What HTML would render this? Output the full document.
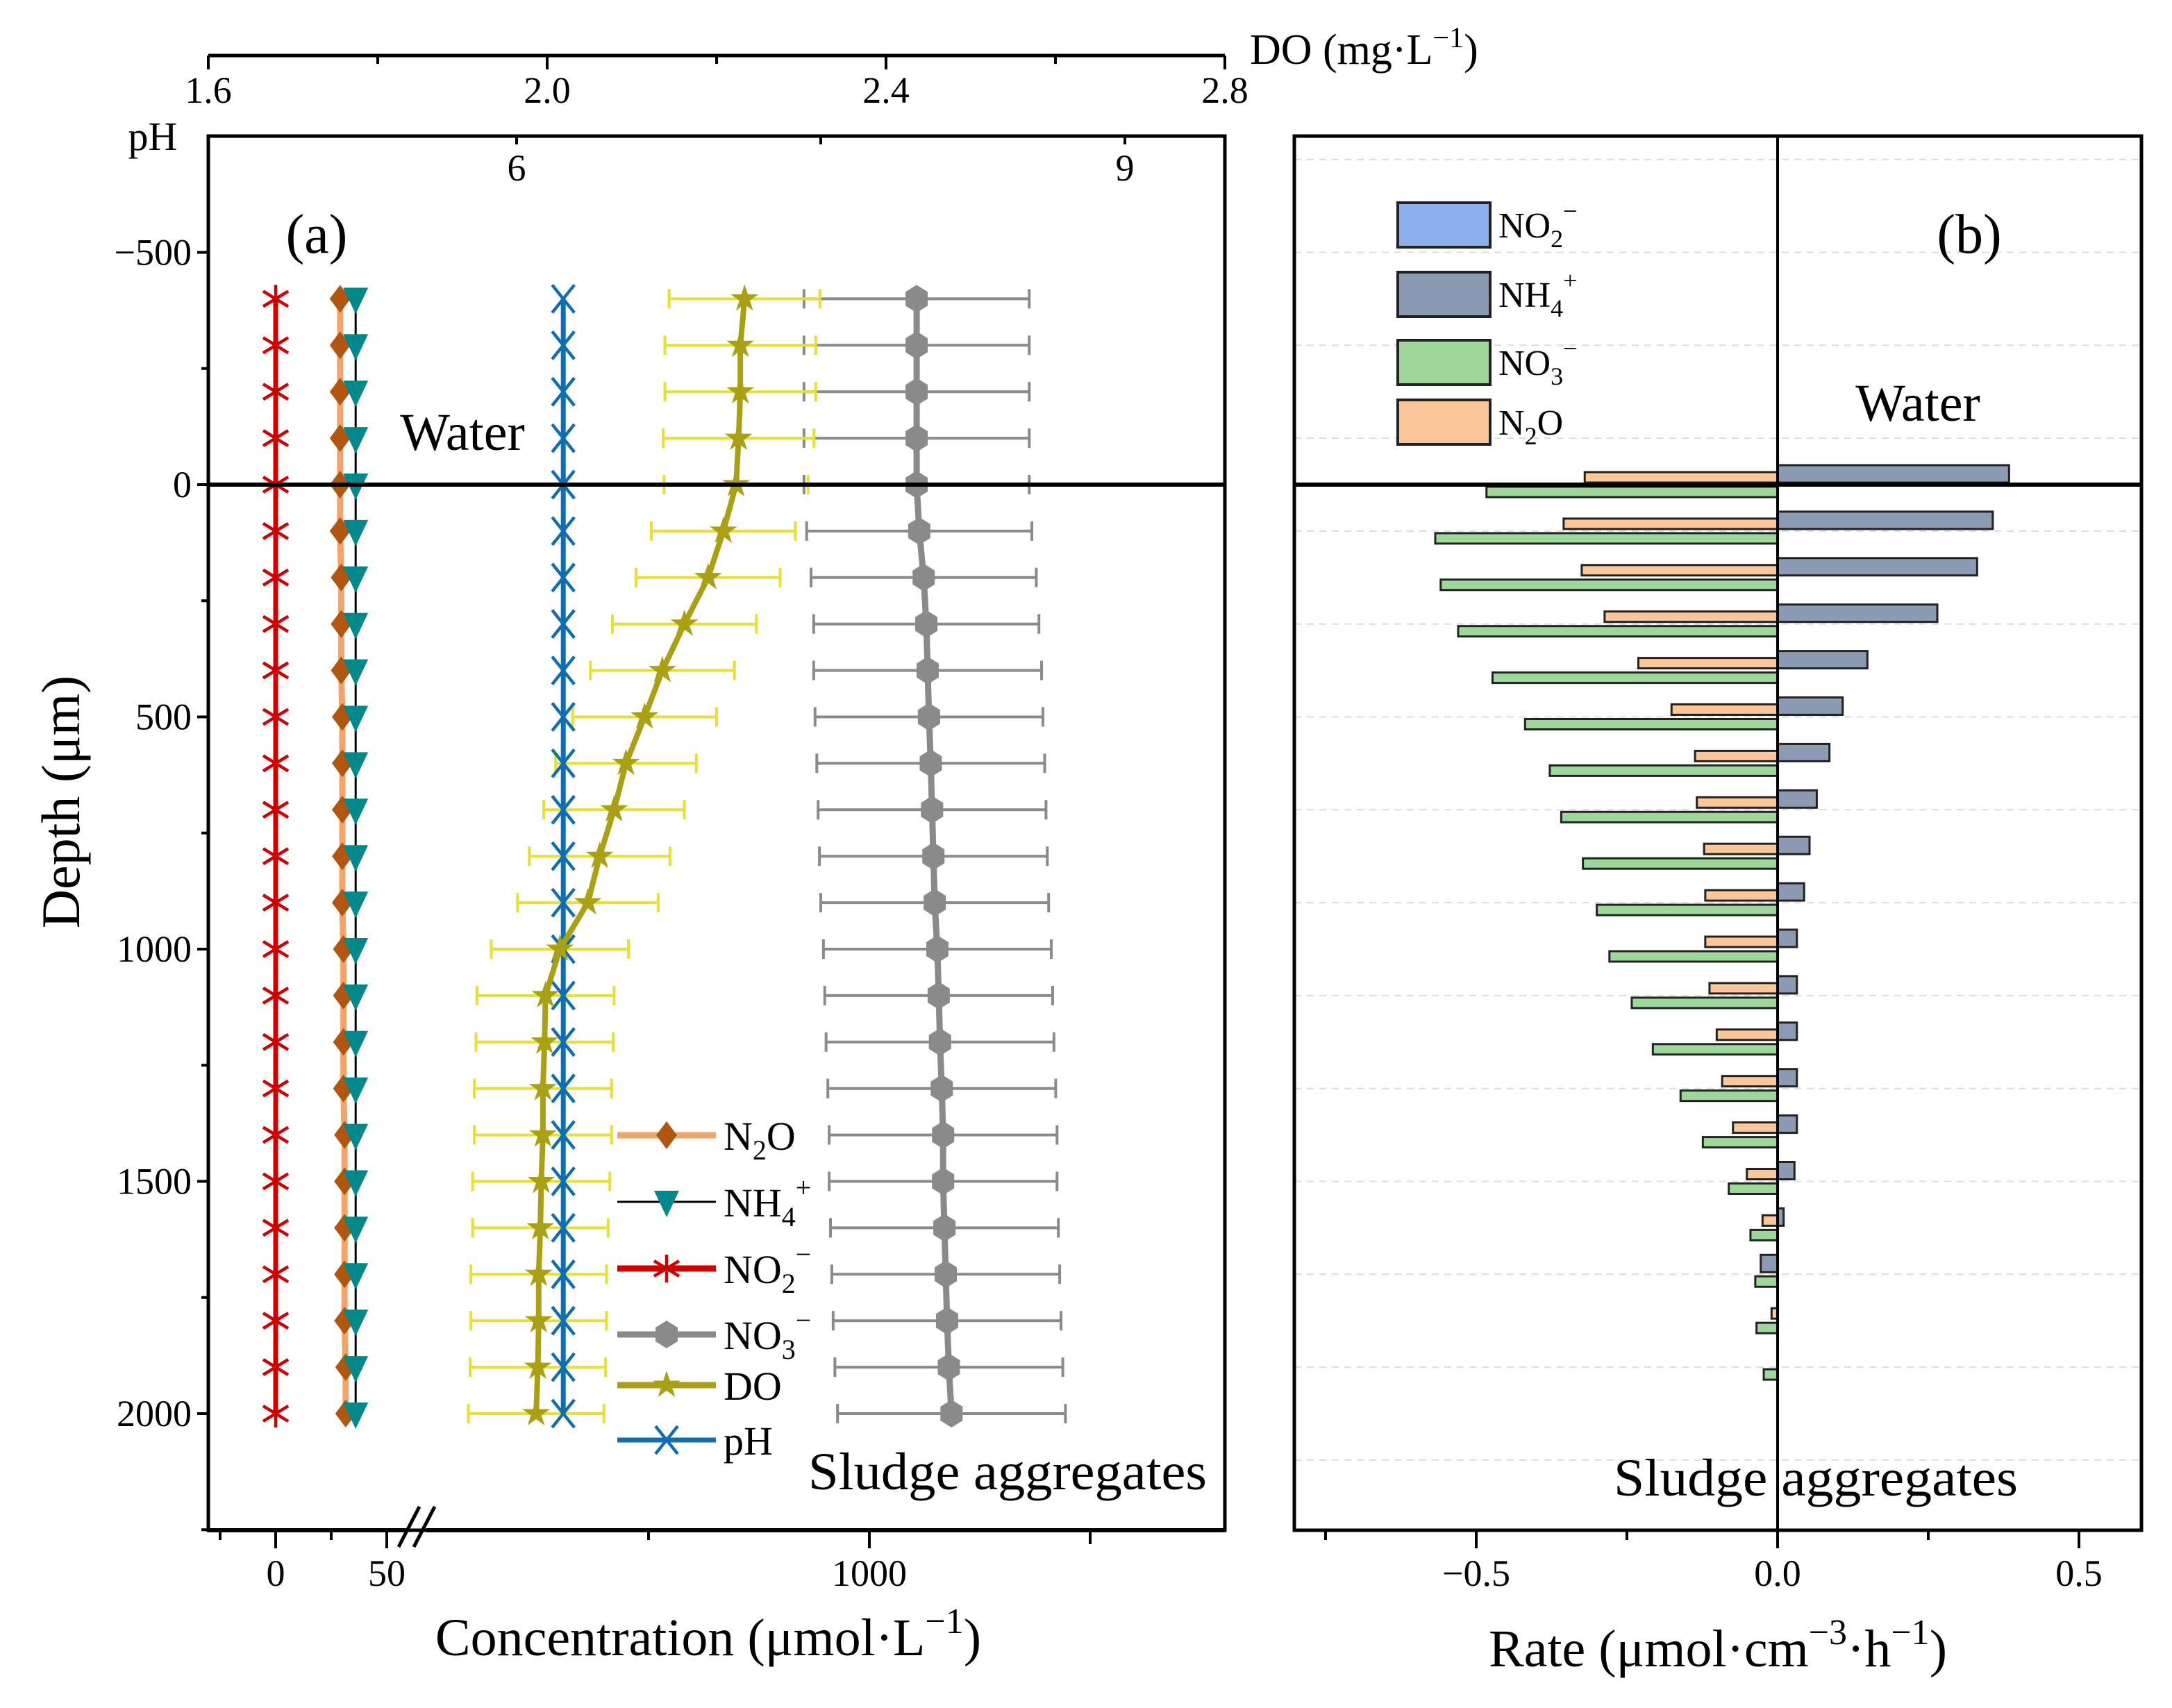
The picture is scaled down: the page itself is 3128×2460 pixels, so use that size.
<!DOCTYPE html>
<html><head><meta charset="utf-8"><style>
html,body{margin:0;padding:0;background:#fff}
svg, svg text{font-family:"Liberation Serif","DejaVu Serif",serif}
</style></head><body>
<svg id="fig" width="3128" height="2455" viewBox="0 0 3128 2455" xmlns="http://www.w3.org/2000/svg" font-family="Liberation Serif, serif">
<g id="pa"></g>
<g id="pb"></g>
</svg>
<script>
// ---- Panel (a) data ----
const depths = [-400,-300,-200,-100,0,100,200,300,400,500,600,700,800,900,1000,1100,1200,1300,1400,1500,1600,1700,1800,1900,2000];
const no2Conc = [0,0,0,0,0,0,0,0,0,0,0,0,0,0,0,0,0,0,0,0,0,0,0,0,0];
const n2oConc = [29,29,29,29,29,29,29.5,29.5,29.5,30,30,30,30,30,30.5,30.5,30.5,30.5,31,31,31,31,31,31.5,31.5];
const nh4Conc = [36,36,36,36,36,36,36,36,36,36,36,36,36,36,36,36,36,36,36,36,36,36,36,36,36];
const no3Conc = [1107,1107,1107,1107,1107,1113,1123,1129,1132,1135,1139,1142,1145,1148,1154,1157,1160,1164,1167,1167,1170,1173,1176,1180,1186];
const no3Err = [255,255,255,255,255,255,255,255,258,258,258,258,258,258,258,258,258,258,258,258,258,258,258,258,258];
const doVal = [2.233,2.228,2.228,2.226,2.223,2.208,2.190,2.162,2.136,2.115,2.093,2.079,2.062,2.048,2.015,1.998,1.997,1.995,1.995,1.993,1.992,1.990,1.990,1.989,1.987];
const doErr = [0.089,0.089,0.089,0.089,0.085,0.085,0.085,0.085,0.085,0.085,0.083,0.083,0.083,0.083,0.081,0.081,0.081,0.081,0.081,0.081,0.080,0.080,0.080,0.080,0.080];
const phVal = [6.23,6.23,6.23,6.23,6.23,6.23,6.23,6.23,6.23,6.23,6.23,6.23,6.23,6.23,6.23,6.23,6.23,6.23,6.23,6.23,6.23,6.23,6.23,6.23,6.23];
const depthTicks = [-500,0,500,1000,1500,2000];
const doTicks = [1.6,2.0,2.4,2.8];
const phTicks = [6,9];
// ---- Panel (b) data ----
const rateDepths = [0,100,200,300,400,500,600,700,800,900,1000,1100,1200,1300,1400,1500,1600,1700,1800,1900];
const nh4Rate = [0.384,0.357,0.331,0.265,0.149,0.108,0.086,0.065,0.053,0.044,0.032,0.032,0.032,0.032,0.032,0.028,0.010,-0.028,0,0];
const n2oRate = [-0.320,-0.355,-0.325,-0.287,-0.231,-0.176,-0.137,-0.134,-0.122,-0.120,-0.120,-0.113,-0.101,-0.092,-0.074,-0.051,-0.025,0,-0.010,0];
const no3Rate = [-0.483,-0.568,-0.559,-0.530,-0.473,-0.419,-0.378,-0.359,-0.323,-0.300,-0.279,-0.242,-0.207,-0.161,-0.124,-0.081,-0.045,-0.037,-0.035,-0.023];
const rateTicks = [-0.5,0,0.5];
const rateTickLabels = ["\u22120.5","0.0","0.5"];

const NS="http://www.w3.org/2000/svg";
function mk(parent,tag,attrs,text){const e=document.createElementNS(NS,tag);for(const k in attrs)e.setAttribute(k,attrs[k]);if(text!==undefined)e.textContent=text;parent.appendChild(e);return e;}

const yD = d => 698 + d*0.669;
const xC = c => c<=100 ? 397 + c*3.2 : 616 + c*0.636;
const xDO = v => 300 + (v-1.6)*1220;
const xPH = p => 744 + (p-6)*292;
const xR = r => 2560 + r*868;

const pa=document.getElementById('pa'), pb=document.getElementById('pb');

// ---------- Panel a axes ----------
let fr=mk(pa,'rect',{x:300,y:196,width:1464,height:2008,fill:'none',stroke:'#000','stroke-width':5});

let zl=mk(pa,'line',{x1:300,x2:1764,y1:yD(0),y2:yD(0),stroke:'#000','stroke-width':6});

for(let d=-500; d<=2250; d+=250){
  const major = d%500===0;
  mk(pa,'line',{x1:300,x2:major?284:290,y1:yD(d),y2:yD(d),stroke:'#000','stroke-width':4});
}
depthTicks.forEach(d=>{
  const t=mk(pa,'text',{x:276,y:yD(d)+18,'text-anchor':'end','font-size':54},d<0?'\u2212'+(-d):String(d));
  
});
let yt=mk(pa,'text',{x:0,y:0,'font-size':78,'text-anchor':'middle',transform:'translate(114,1155) rotate(-90)'},'Depth (\u03bcm)');


mk(pa,'line',{x1:300,x2:586,y1:2204,y2:2204,stroke:'#000','stroke-width':6});
mk(pa,'line',{x1:614,x2:1764,y1:2204,y2:2204,stroke:'#000','stroke-width':6});
let br=mk(pa,'g',{stroke:'#000','stroke-width':5});

mk(br,'line',{x1:574,y1:2228,x2:604,y2:2170});mk(br,'line',{x1:596,y1:2228,x2:626,y2:2170});
[[-25,14],[0,26],[25,14],[50,26]].forEach(([c,l])=>mk(pa,'line',{x1:xC(c),x2:xC(c),y1:2204,y2:2204+l,stroke:'#000','stroke-width':4}));
[[500,14],[1000,26],[1500,20]].forEach(([c,l])=>mk(pa,'line',{x1:xC(c),x2:xC(c),y1:2204,y2:2204+l,stroke:'#000','stroke-width':4}));
[[0,'0'],[50,'50'],[1000,'1000']].forEach(([c,s])=>{const t=mk(pa,'text',{x:xC(c),y:2284,'text-anchor':'middle','font-size':54},s);});
let xt=mk(pa,'text',{x:1020,y:2384,'text-anchor':'middle','font-size':76});

xt.innerHTML='Concentration (\u03bcmol\u00b7L<tspan dy="-32" font-size="52">\u22121</tspan><tspan dy="32">)</tspan>';

mk(pa,'line',{x1:300,x2:1764,y1:80,y2:80,stroke:'#000','stroke-width':5});
[1.6,1.8,2.0,2.2,2.4,2.6,2.8].forEach((v,i)=>mk(pa,'line',{x1:xDO(v),x2:xDO(v),y1:80,y2:i%2?92:100,stroke:'#000','stroke-width':4}));
doTicks.forEach(v=>{const t=mk(pa,'text',{x:xDO(v),y:148,'text-anchor':'middle','font-size':54},v.toFixed(1));});
let dt=mk(pa,'text',{x:1800,y:92,'font-size':62});

dt.innerHTML='DO (mg\u00b7L<tspan dy="-24" font-size="42">\u22121</tspan><tspan dy="24">)</tspan>';
[6,7.5,9].forEach(p=>mk(pa,'line',{x1:xPH(p),x2:xPH(p),y1:196,y2:208,stroke:'#000','stroke-width':4}));
phTicks.forEach(p=>{const t=mk(pa,'text',{x:xPH(p),y:260,'text-anchor':'middle','font-size':54},String(p));});
let pt=mk(pa,'text',{x:220,y:216,'text-anchor':'middle','font-size':58},'pH');


let la=mk(pa,'text',{x:456,y:364,'text-anchor':'middle','font-size':80},'(a)');

let wa=mk(pa,'text',{x:666,y:648,'text-anchor':'middle','font-size':76},'Water');

let sa=mk(pa,'text',{x:1164,y:2145,'font-size':76,textLength:574,lengthAdjust:'spacingAndGlyphs'},'Sludge aggregates');


function marker(g,type,x,y,color){
  if(type==='ast'){[[0,-20,0,20],[-18,-11,18,11],[-18,11,18,-11]].forEach(s=>mk(g,'line',{x1:x+s[0],y1:y+s[1],x2:x+s[2],y2:y+s[3],stroke:color,'stroke-width':4.5}));}
  else if(type==='dia'){mk(g,'polygon',{points:`${x},${y-20} ${x+15},${y} ${x},${y+20} ${x-15},${y}`,fill:color});}
  else if(type==='tri'){mk(g,'polygon',{points:`${x-18},${y-16} ${x+18},${y-16} ${x},${y+22}`,fill:color});}
  else if(type==='hex'){mk(g,'polygon',{points:`${x},${y-20} ${x+16},${y-10} ${x+16},${y+10} ${x},${y+20} ${x-16},${y+10} ${x-16},${y-10}`,fill:color});}
  else if(type==='star'){let p=[];for(let i=0;i<10;i++){const r=i%2?8:21,a=-Math.PI/2+i*Math.PI/5;p.push((x+r*Math.cos(a)).toFixed(1)+','+(y+r*Math.sin(a)).toFixed(1));}mk(g,'polygon',{points:p.join(' '),fill:color});}
  else if(type==='x'){mk(g,'line',{x1:x-16,y1:y-20,x2:x+16,y2:y+20,stroke:color,'stroke-width':4.5});mk(g,'line',{x1:x-16,y1:y+20,x2:x+16,y2:y-20,stroke:color,'stroke-width':4.5});}
}
function errbars(name,vals,errs,xf,color,w){
  const g=mk(pa,'g',{stroke:color,'stroke-width':w});
  
  depths.forEach((d,i)=>{const y=yD(d),a=xf(vals[i]-errs[i]),b=xf(vals[i]+errs[i]);
    mk(g,'line',{x1:a,x2:b,y1:y,y2:y});mk(g,'line',{x1:a,x2:a,y1:y-14,y2:y+14});mk(g,'line',{x1:b,x2:b,y1:y-14,y2:y+14});});
}
function series(name,vals,xf,lineColor,lw,mType,mColor){
  const g=mk(pa,'g',{});
  
  mk(g,'polyline',{points:depths.map((d,i)=>xf(vals[i]).toFixed(1)+','+yD(d).toFixed(1)).join(' '),fill:'none',stroke:lineColor,'stroke-width':lw,'stroke-linejoin':'round'});
  depths.forEach((d,i)=>marker(g,mType,xf(vals[i]),yD(d),mColor));
}
errbars('no3-error-bars',no3Conc,no3Err,xC,'#8a8a8a',4);
errbars('do-error-bars',doVal,doErr,xDO,'#e8e030',4);
series('no2-series',no2Conc,xC,'#d00000',7,'ast','#d00000');
series('n2o-series',n2oConc,xC,'#f2a46a',9,'dia','#b0560f');
series('nh4-series',nh4Conc,xC,'#000',3,'tri','#00898a');
series('ph-series',phVal,xPH,'#0f6db0',7,'x','#0f6db0');
series('do-series',doVal,xDO,'#aaa014',8,'star','#aaa014');
series('no3-series',no3Conc,xC,'#8a8a8a',9,'hex','#8a8a8a');
mk(pa,'line',{x1:300,x2:1764,y1:yD(0),y2:yD(0),stroke:'#000','stroke-width':6});

const legA=[['N<tspan dy="14" font-size="40">2</tspan><tspan dy="-14">O</tspan>','#f2a46a',9,'dia','#b0560f',1635],
 ['NH<tspan dy="14" font-size="40">4</tspan><tspan dy="-42" font-size="40">+</tspan>','#000',3,'tri','#00898a',1731],
 ['NO<tspan dy="14" font-size="40">2</tspan><tspan dy="-42" font-size="40">\u2212</tspan>','#d00000',9,'ast','#d00000',1827],
 ['NO<tspan dy="14" font-size="40">3</tspan><tspan dy="-42" font-size="40">\u2212</tspan>','#8a8a8a',9,'hex','#8a8a8a',1922],
 ['DO','#aaa014',9,'star','#aaa014',1995],
 ['pH','#0f6db0',7,'x','#0f6db0',2074]];
legA.forEach(e=>{
  const g=mk(pa,'g',{});
  
  mk(g,'line',{x1:889,x2:1031,y1:e[5],y2:e[5],stroke:e[1],'stroke-width':e[2]});
  marker(g,e[3],960,e[5],e[4]);
  const t=mk(g,'text',{x:1042,y:e[5]+21,'font-size':58});t.innerHTML=e[0];
});

// ---------- Panel b ----------
for(let d=-700; d<=2100; d+=200){
  mk(pb,'line',{x1:1864,x2:3084,y1:yD(d),y2:yD(d),stroke:'#dcdcdc','stroke-width':2,'stroke-dasharray':'10,8'});
}
function bars(name,vals,fill,y0off,h){
  const g=mk(pb,'g',{fill:fill,stroke:'#222','stroke-width':3});
  
  rateDepths.forEach((d,i)=>{const v=vals[i]; if(v===0) return;
    const a=xR(Math.min(0,v)),b=xR(Math.max(0,v));
    mk(g,'rect',{x:a,y:yD(d)+y0off,width:b-a,height:h});});
}
bars('nh4-rate-bars',nh4Rate,'#8a9bb3',-28,25);
bars('n2o-rate-bars',n2oRate,'#fbc698',-18,15);
bars('no3-rate-bars',no3Rate,'#9dd89a',3,15);
let frb=mk(pb,'rect',{x:1864,y:196,width:1220,height:2008,fill:'none',stroke:'#000','stroke-width':5});

mk(pb,'line',{x1:1864,x2:3084,y1:yD(0),y2:yD(0),stroke:'#000','stroke-width':6});
mk(pb,'line',{x1:2560,x2:2560,y1:196,y2:2204,stroke:'#000','stroke-width':4});
[-0.75,-0.5,-0.25,0,0.25,0.5].forEach(r=>mk(pb,'line',{x1:xR(r),x2:xR(r),y1:2204,y2:2204+(r*4%2===0?26:14),stroke:'#000','stroke-width':4}));
rateTicks.forEach((r,i)=>{const t=mk(pb,'text',{x:xR(r),y:2284,'text-anchor':'middle','font-size':54},rateTickLabels[i]);});
let rt=mk(pb,'text',{x:2474,y:2400,'text-anchor':'middle','font-size':76});

rt.innerHTML='Rate (\u03bcmol\u00b7cm<tspan dy="-32" font-size="52">\u22123</tspan><tspan dy="32">\u00b7h</tspan><tspan dy="-32" font-size="52">\u22121</tspan><tspan dy="32">)</tspan>';
let lb=mk(pb,'text',{x:2836,y:364,'text-anchor':'middle','font-size':80},'(b)');

let wb=mk(pb,'text',{x:2762,y:606,'text-anchor':'middle','font-size':76},'Water');

let sb=mk(pb,'text',{x:2324,y:2154,'font-size':76,textLength:582,lengthAdjust:'spacingAndGlyphs'},'Sludge aggregates');

const legB=[['NO<tspan dy="14" font-size="36">2</tspan><tspan dy="-40" font-size="36">\u2212</tspan>','#8ab0ee',292],
 ['NH<tspan dy="14" font-size="36">4</tspan><tspan dy="-40" font-size="36">+</tspan>','#8a9bb3',392],
 ['NO<tspan dy="14" font-size="36">3</tspan><tspan dy="-40" font-size="36">\u2212</tspan>','#9dd89a',490],
 ['N<tspan dy="14" font-size="36">2</tspan><tspan dy="-14">O</tspan>','#fbc698',576]];
legB.forEach(e=>{
  const g=mk(pb,'g',{});
  
  mk(g,'rect',{x:2013,y:e[2],width:133,height:64,fill:e[1],stroke:'#222','stroke-width':4});
  const t=mk(g,'text',{x:2158,y:e[2]+50,'font-size':52});t.innerHTML=e[0];
});
</script>
</body></html>
